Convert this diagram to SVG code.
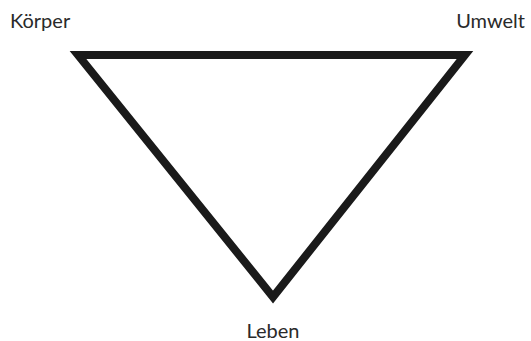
<svg xmlns="http://www.w3.org/2000/svg" width="531" height="341" viewBox="0 0 531 341">
<style>
.lbl{font-family:Lato,"Open Sans","Liberation Sans",sans-serif;font-size:20px;fill:#2a2a2a}
.tri{fill:none;stroke:#1a1a1a;stroke-width:8;stroke-linejoin:miter;stroke-miterlimit:10}
</style>
<rect width="531" height="341" fill="#fff"/>
<g id="connectors">
<polygon class="tri" points="78,55 465,55 273,297"/>
</g>
<g id="koerper"><text class="lbl" x="10" y="28">Körper</text></g>
<g id="umwelt"><text class="lbl" x="525" y="28" text-anchor="end">Umwelt</text></g>
<g id="leben"><text class="lbl" x="273" y="338" text-anchor="middle">Leben</text></g>
</svg>
